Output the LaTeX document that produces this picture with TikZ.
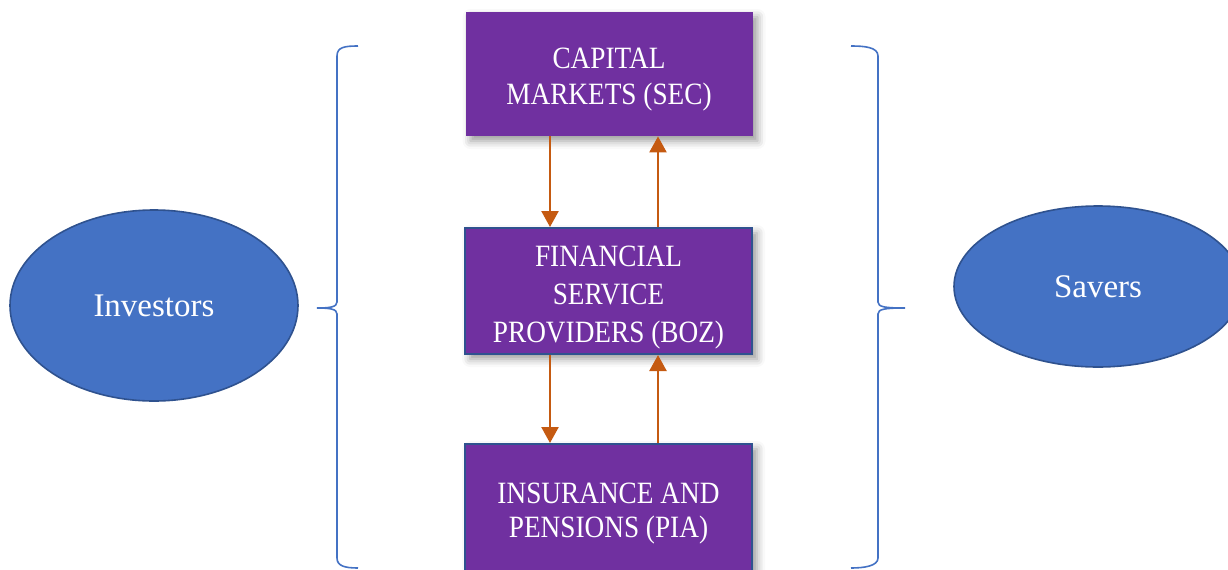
\documentclass[tikz,border=0pt]{standalone}
\usepackage{fontspec}
\setmainfont{Liberation Serif}
\newfontfamily\boxfont[FakeStretch=0.88]{Liberation Serif}
\usetikzlibrary{arrows.meta, positioning, shapes.geometric, shadows.blur}

\definecolor{boxpurple}{HTML}{7030A0}
\definecolor{ovalblue}{HTML}{4472C4}
\definecolor{ovalline}{HTML}{2F528F}
\definecolor{flowline}{HTML}{C55A11}

% lines of a box, set a little low in it
\newcommand{\boxlines}[1]{\raisebox{0pt}[\dimexpr\height+5.5pt\relax][\depth]{\begin{tabular}{@{}c@{}}#1\end{tabular}}}

\begin{document}
\begin{tikzpicture}[x=0.5pt, y=-0.5pt,
   >={Triangle[length=8pt,width=8.5pt]},
   sector/.style={rectangle, fill=boxpurple, text=white,
      font=\boxfont\fontsize{15.5}{18}\selectfont, inner sep=0pt,
      minimum width=143.5pt, minimum height=63pt,
      blur shadow={shadow xshift=2.5pt, shadow yshift=-2.5pt,
         shadow blur radius=4pt, shadow opacity=40}},
   edged/.style={draw=ovalline, line width=1pt},
   party/.style={ellipse, fill=ovalblue, draw=ovalline, line width=0.8pt,
      text=white, inner sep=0pt, font=\fontsize{16.5}{20}\selectfont},
   flow/.style={->, draw=flowline, line width=1.2pt},
   brace/.style={draw=ovalblue, line width=0.8pt}]

   \clip (0,0) rectangle (1228,569);

   % Nodes
      \node[sector, minimum height=62pt]                          (cap)  at (609,74)    {\boxlines{CAPITAL\\MARKETS (SEC)}};
      \node[sector, edged, font=\boxfont\fontsize{15.5}{19}\selectfont] (fsp)  at (608.5,291)  {\boxlines{FINANCIAL\\SERVICE\\PROVIDERS (BOZ)}};
      \node[sector, edged, minimum height=64pt, font=\boxfont\fontsize{15.5}{17}\selectfont] (ins)  at (608.5,508)  {\boxlines{INSURANCE AND\\PENSIONS (PIA)}};
      \node[party, minimum width=144pt, minimum height=95.5pt]    (inv)  at (154,305.5) {Investors};
      \node[party, minimum width=144pt, minimum height=80.5pt]    (sav)  at (1098,286.5) {Savers};

   % Paths
      \draw[flow] ([xshift=-29.5pt]cap.south) -- ([xshift=-29.25pt]fsp.north);
      \draw[flow] ([xshift=24.75pt]fsp.north) -- ([xshift=24.5pt]cap.south);
      \draw[flow] ([xshift=-29.25pt]fsp.south) -- ([xshift=-29.25pt]ins.north);
      \draw[flow] ([xshift=24.75pt]ins.north) -- ([xshift=24.75pt]fsp.south);

   % Braces
      \draw[brace] (358,46) .. controls (345,46) and (337,47) .. (337,56) -- (337,302)
                   .. controls (337,307) and (330,308) .. (317,308)
                   .. controls (330,308) and (337,309) .. (337,314) -- (337,558)
                   .. controls (337,566) and (345,568) .. (358,568);
      \draw[brace] (851,46) .. controls (864,46) and (878,47) .. (878,56) -- (878,302)
                   .. controls (878,307) and (885,308) .. (905,308)
                   .. controls (885,308) and (878,309) .. (878,314) -- (878,558)
                   .. controls (878,566) and (864,568) .. (851,568);
\end{tikzpicture}
\end{document}
